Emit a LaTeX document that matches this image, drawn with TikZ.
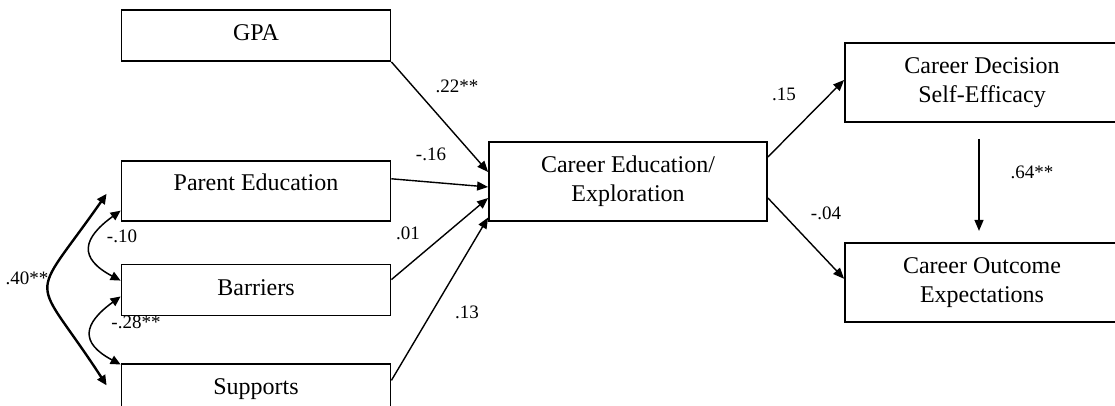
\documentclass[tikz,border=0pt]{standalone}
\usepackage{fontspec}
\setmainfont{Liberation Serif}
\usetikzlibrary{positioning,arrows.meta}

\begin{document}
\begin{tikzpicture}[x=0.5pt,y=0.5pt,
box/.style={draw,line width=0.9pt,align=center,minimum width=134.5pt,inner sep=0pt,font=\fontsize{12}{14.5}\selectfont},
onebox/.style={box,minimum height=25.5pt,text height=8pt,text depth=3pt},
twobox/.style={box,minimum height=39.5pt},
coef/.style={inner sep=0pt,font=\fontsize{9.5}{11}\selectfont},
effect/.style={line width=0.7pt,-{Triangle[length=5.5pt,width=4.5pt]}},
cov/.style={line width=0.75pt,{Triangle[length=5pt,width=4.5pt]}-{Triangle[length=5pt,width=4.5pt]}}
]
\useasboundingbox (0,0) rectangle (1115,406);
\clip (0,0) rectangle (1115,406);

\node[onebox] (gpa) at (256,370.5) {GPA};
\node[box,minimum height=30pt,text height=8pt,text depth=8pt,below=49pt of gpa] (pe) {Parent Education};
\node[onebox,below=21pt of pe] (bar) {Barriers};
\node[onebox,below=23.5pt of bar] (sup) {Supports};
\node[twobox,minimum width=139pt] (cee) at (628,224.5) {Career Education/\\Exploration};
\node[twobox,minimum width=137pt] (cdse) at (982,323.5) {Career Decision\\Self-Efficacy};
\node[twobox,minimum width=137pt,below=59.5pt of cdse] (coe) {Career Outcome\\Expectations};

\draw[effect] (gpa.south east) -- ([yshift=4.75pt]cee.west);
\draw[effect] ([yshift=6pt]pe.east) -- ([yshift=-2.75pt]cee.west);
\draw[effect] ([yshift=5.25pt]bar.east) -- ([yshift=-8.25pt]cee.west);
\draw[effect] ([yshift=4.75pt]sup.east) -- ([yshift=-18pt]cee.west);
\draw[effect] ([yshift=12.25pt]cee.east) -- ([yshift=1.25pt]cdse.west);
\draw[effect] ([yshift=-8.25pt]cee.east) -- ([yshift=1.75pt]coe.west);
\draw[effect] ([xshift=-1.5pt,yshift=-8pt]cdse.south) -- ([xshift=-1.5pt,yshift=5.5pt]coe.north);

\draw[cov,line width=1.2pt] ([xshift=-7pt,yshift=-1.5pt]pe.west) to[out=235,in=123,looseness=1.85] ([xshift=-7pt,yshift=2.25pt]sup.west);
\draw[cov] ([yshift=5.5pt]pe.south west) to[out=216,in=152,looseness=1.75] ([yshift=4.75pt]bar.west);
\draw[cov] ([yshift=10pt]bar.south west) to[out=216,in=152,looseness=1.75] ([yshift=-0.5pt]sup.north west);

\node[coef] (c22) at (457,320) {.22**};
\node[coef] (c16) at (431,252) {-.16};
\node[coef] (c01) at (408,173) {.01};
\node[coef] (c13) at (467,94) {.13};
\node[coef] (c15) at (784,312) {.15};
\node[coef] (c04) at (826,193) {-.04};
\node[coef] (c64) at (1032,234) {.64**};
\node[coef] (c40) at (27,128) {.40**};
\node[coef] (c10) at (122,170) {-.10};
\node[coef] (c28) at (136,84) {-.28**};
\end{tikzpicture}
\end{document}
